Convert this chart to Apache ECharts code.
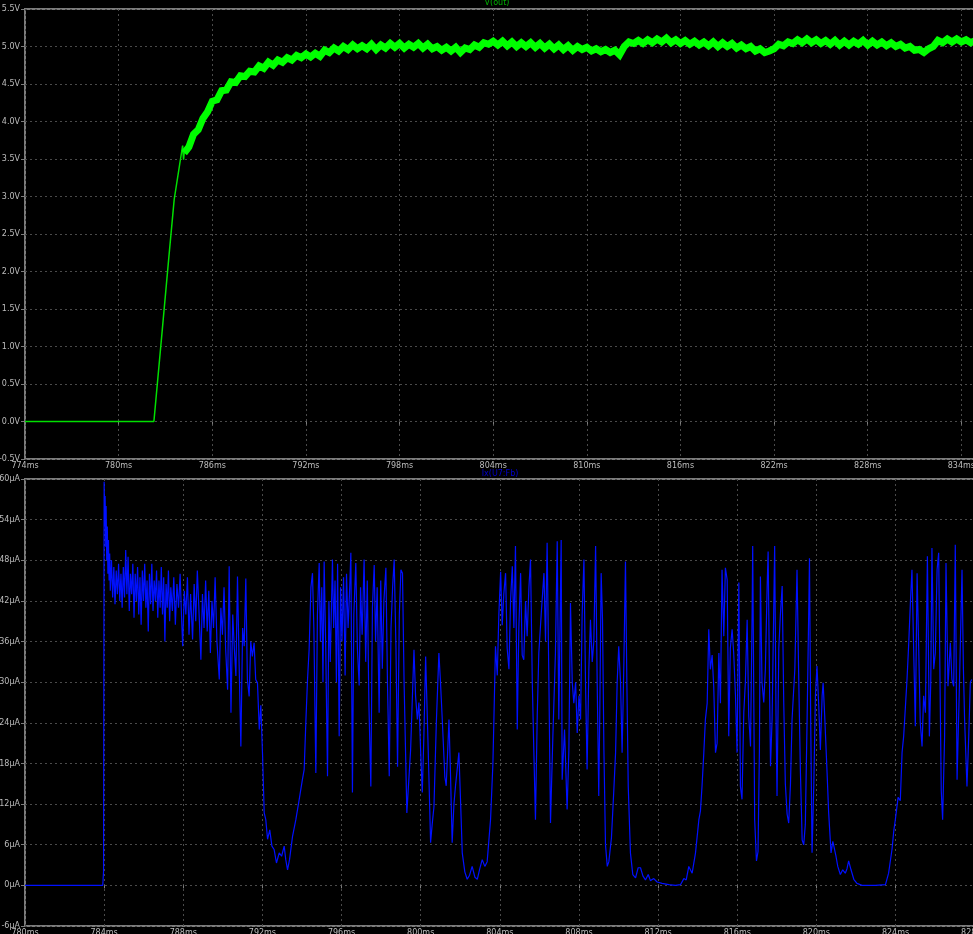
<!DOCTYPE html>
<html>
<head>
<meta charset="utf-8">
<script src="https://cdn.jsdelivr.net/npm/echarts@6/dist/echarts.min.js"></script>
<style>
html,body{margin:0;padding:0;background:#000;}
#chart{width:973px;height:934px;}
</style>
</head>
<body>
<div id="chart"></div>
<script>
// ---------- Top pane: V(out) ----------
const voutTitle = 'V(out)';
const voutTicks = { min: -0.5, max: 5.5, step: 0.5 };
const timeTicksTop = { min: 774, step: 6 };
// rise portion [ms, V]
const voutRise = [[774, 0], [782.26, 0], [782.8, 1.23], [783.2, 2.15], [783.56, 2.96], [784.10, 3.68], [784.16, 3.49], [784.2, 3.58]];
// settled noisy band, sampled every 0.3 ms from 784.2 ms
const voutBandStart = 784.2;
const voutBandStep = 0.3;
const voutBand = [
  3.58, 3.66, 3.83, 3.89, 4.04, 4.13, 4.27, 4.29, 4.41, 4.42,
  4.53, 4.52, 4.61, 4.60, 4.67, 4.66, 4.74, 4.71, 4.79, 4.75,
  4.82, 4.79, 4.85, 4.82, 4.88, 4.85, 4.90, 4.86, 4.91, 4.87,
  4.95, 4.92, 4.98, 4.94, 5.00, 4.96, 5.02, 4.97, 5.01, 4.97,
  5.03, 4.96, 5.02, 4.98, 5.04, 4.99, 5.04, 4.98, 5.03, 4.99,
  5.04, 4.98, 5.03, 4.97, 5.00, 4.95, 4.99, 4.94, 4.99, 4.92,
  4.98, 4.96, 5.02, 4.99, 5.05, 5.03, 5.07, 5.02, 5.07, 5.01,
  5.06, 5.00, 5.05, 5.00, 5.05, 4.99, 5.04, 4.98, 5.03, 4.97,
  5.02, 4.96, 5.01, 4.95, 5.00, 4.96, 4.99, 4.94, 4.97, 4.93,
  4.96, 4.92, 4.95, 4.89, 5.00, 5.06, 5.04, 5.08, 5.04, 5.09,
  5.05, 5.10, 5.06, 5.11, 5.05, 5.09, 5.04, 5.08, 5.03, 5.07,
  5.02, 5.06, 5.01, 5.06, 5.00, 5.05, 5.00, 5.04, 4.98, 5.02,
  4.97, 5.00, 4.94, 4.97, 4.92, 4.94, 4.97, 5.03, 5.01, 5.06,
  5.04, 5.09, 5.05, 5.10, 5.05, 5.09, 5.04, 5.08, 5.03, 5.08,
  5.02, 5.07, 5.02, 5.07, 5.03, 5.08, 5.02, 5.07, 5.02, 5.06,
  5.01, 5.05, 5.00, 5.03, 4.98, 5.00, 4.95, 4.96, 4.92, 4.97,
  5.00, 5.08, 5.05, 5.10, 5.06, 5.10, 5.06, 5.09, 5.05, 5.08
];

// ---------- Bottom pane: Ix(U7:Fb) ----------
const ixTitle = 'Ix(U7:Fb)';
const ixTicks = { min: -6, max: 60, step: 6 };
const timeTicksBottom = { min: 780, step: 4 };
// [ms, µA]
const ixCurve = [
  [780.00,0],[783.93,0],[783.97,2],[784.00,59.6],[784.03,53],[784.05,57.5],[784.08,50],[784.10,56],[784.13,48],[784.16,53],
  [784.19,46],[784.22,51],[784.25,45],[784.28,49],
  [784.31,43.5],[784.37,48],[784.43,42.5],[784.49,47],[784.55,41.5],[784.61,46.5],[784.67,43],[784.73,47.5],[784.79,42],[784.85,46],
  [784.91,41],[784.97,47],[785.03,42.5],[785.09,49.5],[785.15,43],[785.21,48.5],[785.27,40.5],[785.33,46],[785.39,43],[785.45,47.5],
  [785.51,39.5],[785.57,46],[785.63,42],[785.69,47],[785.75,40],[785.81,45.5],[785.87,38.5],[785.93,46.5],[785.99,42],[786.05,47.5],
  [786.11,41],[786.17,45],[786.23,37.5],[786.29,46],[786.35,41.5],[786.41,47.5],[786.47,40.5],[786.53,45],[786.59,42],[786.65,46.5],
  [786.71,39.5],[786.77,45],[786.83,41],[786.89,47],[786.95,40],[787.01,45.5],[787.07,36],[787.13,44.5],[787.19,41],[787.25,46.5],
  [787.31,39],
  [787.37,44],[787.45,40.5],[787.52,45.5],[787.60,38.5],[787.68,44.5],[787.76,41],[787.84,46],[787.92,39],[787.97,35.3],[788.05,43.5],
  [788.13,40],[788.21,45.5],[788.29,37],[788.37,43],[788.47,36.3],[788.55,44.5],[788.63,39],[788.71,46.5],[788.80,40],[788.89,33.3],
  [788.97,43],[789.05,38],[789.13,45],[789.21,37.5],[789.29,43.5],[789.37,34.3],[789.45,42],[789.53,38],[789.61,45.5],[789.70,36],
  [789.82,30.4],[789.90,41],[789.98,37],[790.06,44],[790.14,35],[790.24,28.9],[790.32,47.1],[790.41,25.5],[790.50,40],[790.58,35],
  [790.66,30.9],[790.74,45.6],[790.82,33],[790.91,20.5],[791.00,38],[791.08,35.3],[791.16,45.3],[791.24,30.4],[791.33,27.9],[791.41,36],
  [791.49,33.8],[791.58,35.8],[791.66,30.4],[791.75,29.9],[791.84,23],[791.92,26.6],[792.01,19],[792.09,10.7],[792.17,9.7],[792.26,6.8],
  [792.37,8.2],[792.48,5.8],[792.59,5.3],[792.71,3.3],[792.85,4.8],[792.97,4.3],[793.10,5.8],[793.18,3.8],[793.27,2.3],[793.37,3.8],
  [793.52,7.2],[793.69,9.7],[793.86,12.7],[794.02,15.6],[794.11,17.1],[794.20,24.5],[794.28,30.4],
  [794.36,34.8],[794.45,44],[794.53,46.1],[794.60,38],[794.70,16.6],[794.78,40],[794.87,47.6],[794.93,36],[795.00,44],[795.06,30],
  [795.12,47.8],[795.20,35],[795.29,16.1],[795.36,42],[795.43,33],[795.54,48.1],[795.60,38],[795.67,45],[795.74,30],[795.80,47.5],
  [795.88,22],[795.95,44],[796.02,36],[796.10,45.5],[796.18,31],[796.25,46],[796.33,38],[796.40,43],[796.47,49.1],[796.55,13.7],
  [796.62,40],[796.72,47.6],[796.80,35],[796.89,29.5],[796.96,44],[797.04,37],[797.14,48.1],[797.22,33],[797.30,45],[797.38,27],
  [797.48,14.6],[797.56,41],[797.65,47.3],[797.72,36],[797.80,44],[797.90,25.5],[797.98,45],[798.06,32],[798.14,42],[798.24,46.9],
  [798.32,30],[798.41,16.1],[798.50,38],[798.58,44],[798.66,48.1],[798.75,35],[798.83,17.5],[798.92,40],[799.00,46.6],[799.08,46.1],
  [799.16,30],
  [799.30,10.7],[799.49,20],[799.66,34.8],[799.74,28],[799.83,24.5],[799.91,27],[800.00,19.6],[800.08,13.7],[800.16,22],[800.25,33.8],
  [800.38,20],[800.50,6.3],[800.58,9],[800.67,11.6],[800.79,24],[800.92,34.3],[801.00,30],[801.09,24.5],[801.22,16],[801.29,14.7],
  [801.43,24.5],[801.51,16],[801.59,6.3],[801.68,12],[801.76,14.7],[801.93,19.6],[802.02,12],[802.10,4.8],[802.23,2],[802.35,0.9],
  [802.47,1.5],[802.60,2.8],[802.74,1.2],[802.86,0.9],[802.99,2.5],[803.11,3.8],[803.24,2.8],[803.36,3.5],[803.53,9.7],[803.65,18],
  [803.70,24.5],[803.78,35.3],[803.87,31],[803.95,40],[804.04,46.3],[804.12,38.4],[804.20,43],[804.29,46.1],[804.37,35],[804.46,31.9],
  [804.54,42],[804.63,47.1],[804.71,38],[804.79,50.1],[804.88,23],[804.96,38],[805.05,46.1],[805.13,34],[805.21,33.3],[805.30,42],
  [805.38,36.8],[805.47,44],[805.55,48.1],[805.64,30],[805.72,19.6],[805.80,9.7],[805.89,25],[805.97,34.3],[806.09,40],[806.23,46.1],
  [806.31,36],[806.39,50.6],[806.48,30],[806.56,9.2],[806.68,22],[806.81,34.3],[806.90,50.8],[806.98,24.5],[807.05,40],[807.10,51],
  [807.15,15.6],[807.27,23],[807.40,11.2],[807.49,20],[807.57,41.7],[807.66,30],[807.74,26.9],[807.83,30],[807.91,22.5],[808.00,28],
  [808.08,24.5],[808.16,40],[808.25,48.1],[808.33,30],[808.41,17.1],[808.50,32],[808.58,39.2],[808.67,33],[808.75,36],[808.84,50.1],
  [808.92,30],[809.00,13.2],[809.05,25],[809.12,46.1],[809.19,39.2],[809.26,20],[809.34,6],[809.43,2.8],[809.51,3.5],[809.64,7],
  [809.76,14],[809.85,19.6],[809.93,30],[810.01,35.3],[810.10,30],[810.18,19.6],[810.27,33],[810.35,47.8],[810.42,30],[810.49,14.6],
  [810.60,4.8],[810.72,1.6],[810.86,1.1],[810.99,2.6],[811.11,2.6],[811.23,1.4],[811.36,0.8],[811.50,1.6],[811.61,0.7],[811.78,1.0],
  [811.95,0.5],[812.20,0.3],[812.54,0.1],[812.88,0],[813.13,0.1],[813.30,1.0],[813.42,0.8],[813.55,2.8],[813.72,1.8],[813.89,4.8],
  [814.06,9.7],[814.14,11],[814.22,14.7],[814.31,19.6],[814.39,24.5],[814.48,26.9],[814.56,37.8],[814.64,31.9],[814.73,34],[814.81,29.4],
  [814.90,19.6],[814.98,21],[815.07,34.3],[815.15,26.9],[815.23,46.6],[815.32,36.8],[815.40,46.9],[815.49,45.1],[815.57,22],[815.65,35],
  [815.74,37.8],[815.82,34.3],[815.91,28],[815.99,19.6],[816.08,44.7],[816.16,14.6],[816.24,12.7],[816.33,25.5],[816.41,30],[816.50,39.2],
  [816.58,25],[816.67,20.5],[816.75,40],[816.78,50.1],[816.88,9.7],[816.97,3.6],[817.05,5],[817.12,20],[817.17,45.6],[817.25,30],
  [817.34,27],[817.42,31.9],[817.51,44],[817.56,49.3],[817.63,30],[817.68,17.6],[817.76,24.5],[817.84,40],[817.89,50.1],[817.96,25],
  [818.01,13.2],[818.10,35],[818.18,40],[818.27,44.2],[818.35,26.9],[818.43,15],[818.52,10.5],[818.60,9.2],[818.69,15],[818.77,24.5],
  [818.91,31.9],[819.02,46.6],[819.11,30],[819.19,17],[819.28,6.7],[819.36,6],[819.44,9],[819.53,24.5],[819.61,40],[819.65,48.3],
  [819.71,25],[819.78,4.8],[819.87,15],[819.95,28],[820.03,32.4],[820.12,26.4],[820.20,20],[820.29,28],[820.34,29.9],[820.42,25],
  [820.54,16.6],[820.62,10.7],[820.74,4.8],[820.83,6.5],[820.91,6.3],[820.99,4.3],[821.08,2.8],[821.21,1.6],[821.33,2.3],[821.46,1.8],
  [821.55,2.5],[821.63,3.6],[821.75,2.3],[821.89,0.9],[822.05,0.3],[822.31,0],[822.98,0],[823.49,0.1],[823.65,1.8],[823.82,5.3],
  [823.91,8],[823.99,9.7],[824.13,13],[824.24,12.5],[824.33,19.6],[824.41,22],[824.50,26.4],[824.58,30.4],[824.66,35.3],[824.75,41.7],
  [824.83,46.6],[824.92,34.3],[825.00,23.5],[825.09,46.1],[825.17,35],[825.25,24],[825.34,20.5],[825.42,28],[825.51,25.5],[825.61,48.6],
  [825.71,22],[825.78,30],[825.84,49.8],[825.93,31.9],[826.01,34.3],[826.10,46.6],[826.18,49.1],[826.26,26.9],[826.31,14],[826.38,9.7],
  [826.48,22],[826.55,47.6],[826.65,29.4],[826.77,35.8],[826.85,30.4],[826.94,29.4],[827.02,50.3],[827.11,15.6],[827.22,28.4],[827.36,46.6],
  [827.43,32],[827.49,24.5],[827.61,14.6],[827.70,22],[827.78,30],[827.85,30.4]
];

// ---------- build ----------
const voutBandPoints = voutBand.map((v, i) => [voutBandStart + i * voutBandStep, v]);

const FONT = 'DejaVu Sans';
const labelColor = '#bdbdbd';
const frameColor = '#7c7c7c';
const gridColor = '#4a4a4a';

const intLabel = (suffix) => (v) => (Math.abs(v - Math.round(v)) < 1e-6 ? Math.round(v) + suffix : '');

const chart = echarts.init(document.getElementById('chart'), null, { renderer: 'canvas' });
chart.setOption({
  backgroundColor: '#000000',
  animation: false,
  graphic: [
    { type: 'text', x: 497, y: 3, z: 100, style: { text: voutTitle, fill: '#00b000', font: '8px ' + FONT, textAlign: 'center', textVerticalAlign: 'middle' } },
    { type: 'text', x: 500, y: 474, z: 100, style: { text: ixTitle, fill: '#0000d0', font: '8px ' + FONT, textAlign: 'center', textVerticalAlign: 'middle' } }
  ],
  grid: [
    { left: 25, top: 9, width: 950, height: 450, containLabel: false, outerBoundsMode: 'none', show: true, borderColor: frameColor, borderWidth: 2, backgroundColor: 'transparent' },
    { left: 25, top: 479, width: 950, height: 447, containLabel: false, outerBoundsMode: 'none', show: true, borderColor: frameColor, borderWidth: 2, backgroundColor: 'transparent' }
  ],
  xAxis: [
    {
      gridIndex: 0, type: 'value', min: timeTicksTop.min, max: timeTicksTop.min + 950 / 15.606, interval: timeTicksTop.step,
      axisLine: { show: false },
      axisTick: { show: true, length: 3, lineStyle: { color: frameColor } },
      axisLabel: { color: labelColor, fontSize: 8, fontFamily: FONT, margin: 3, formatter: intLabel('ms'), showMaxLabel: false },
      splitLine: { show: true, lineStyle: { color: gridColor, type: [2, 3], width: 1 } }
    },
    {
      gridIndex: 1, type: 'value', min: timeTicksBottom.min, max: timeTicksBottom.min + 950 / 19.785, interval: timeTicksBottom.step,
      axisLine: { show: false },
      axisTick: { show: true, length: 3, lineStyle: { color: frameColor } },
      axisLabel: { color: labelColor, fontSize: 8, fontFamily: FONT, margin: 3, formatter: intLabel('ms'), showMaxLabel: false },
      splitLine: { show: true, lineStyle: { color: gridColor, type: [2, 3], width: 1 } }
    }
  ],
  yAxis: [
    {
      gridIndex: 0, type: 'value', min: voutTicks.min, max: voutTicks.max, interval: voutTicks.step,
      axisLine: { show: false },
      axisTick: { show: true, length: 4, lineStyle: { color: frameColor } },
      axisLabel: { color: labelColor, fontSize: 8, fontFamily: FONT, margin: 5, formatter: (v) => v.toFixed(1) + 'V' },
      splitLine: { show: true, lineStyle: { color: gridColor, type: [2, 3], width: 1 } }
    },
    {
      gridIndex: 1, type: 'value', min: ixTicks.min, max: ixTicks.max, interval: ixTicks.step,
      axisLine: { show: false },
      axisTick: { show: true, length: 4, lineStyle: { color: frameColor } },
      axisLabel: { color: labelColor, fontSize: 8, fontFamily: FONT, margin: 5, formatter: (v) => Math.round(v) + 'µA' },
      splitLine: { show: true, lineStyle: { color: gridColor, type: [2, 3], width: 1 } }
    }
  ],
  series: [
    {
      name: voutTitle, type: 'line', xAxisIndex: 0, yAxisIndex: 0, data: voutRise,
      showSymbol: false, symbol: 'none', lineStyle: { color: '#00e000', width: 1.5 }, clip: true
    },
    {
      name: voutTitle, type: 'line', xAxisIndex: 0, yAxisIndex: 0, data: voutBandPoints,
      showSymbol: false, symbol: 'none', lineStyle: { color: '#00ff00', width: 7, join: 'miter' }, clip: true
    },
    {
      name: ixTitle, type: 'line', xAxisIndex: 1, yAxisIndex: 1, data: ixCurve,
      showSymbol: false, symbol: 'none', sampling: null, lineStyle: { color: '#0010ff', width: 1.2 }, clip: true
    }
  ]
});
</script>
</body>
</html>
